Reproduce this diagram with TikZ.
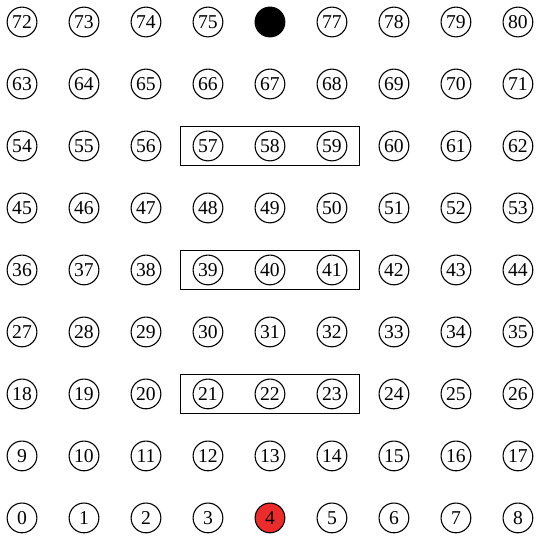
\documentclass[tikz,border=0pt]{standalone}
\usepackage{fontspec}
\setmainfont{Liberation Serif}
\usetikzlibrary{fit}
\definecolor{hit}{HTML}{EC2B2B}
\tikzset{
  every node/.style={font=\fontsize{9}{10}\selectfont},
  cell/.style={circle,draw=black,line width=0.5pt,fill=white,minimum size=0.48cm,inner sep=0pt},
  hitcell/.style={cell,fill=hit},
  goalcell/.style={cell,fill=black},
  group/.style={draw=black,inner xsep=0.2cm,inner ysep=0.07cm},
}
\begin{document}
\begin{tikzpicture}[x=1cm,y=1cm]
\useasboundingbox (-0.355,-0.34) rectangle (8.34,8.355);
% grid of states, 0 at bottom left
\foreach \i in {0,...,80}{
  \pgfmathtruncatemacro\cx{mod(\i,9)}
  \pgfmathtruncatemacro\cy{div(\i,9)}
  \ifnum\i=4
    \node[hitcell] (n\i) at (\cx,\cy) {\i};
  \else\ifnum\i=76
    \node[goalcell] (n\i) at (\cx,\cy) {};
  \else
    \node[cell] (n\i) at (\cx,\cy) {\i};
  \fi\fi
}
\node[group,fit=(n21)(n23)] (g1) {};
\node[group,fit=(n39)(n41)] (g2) {};
\node[group,fit=(n57)(n59)] (g3) {};
\end{tikzpicture}
\end{document}
